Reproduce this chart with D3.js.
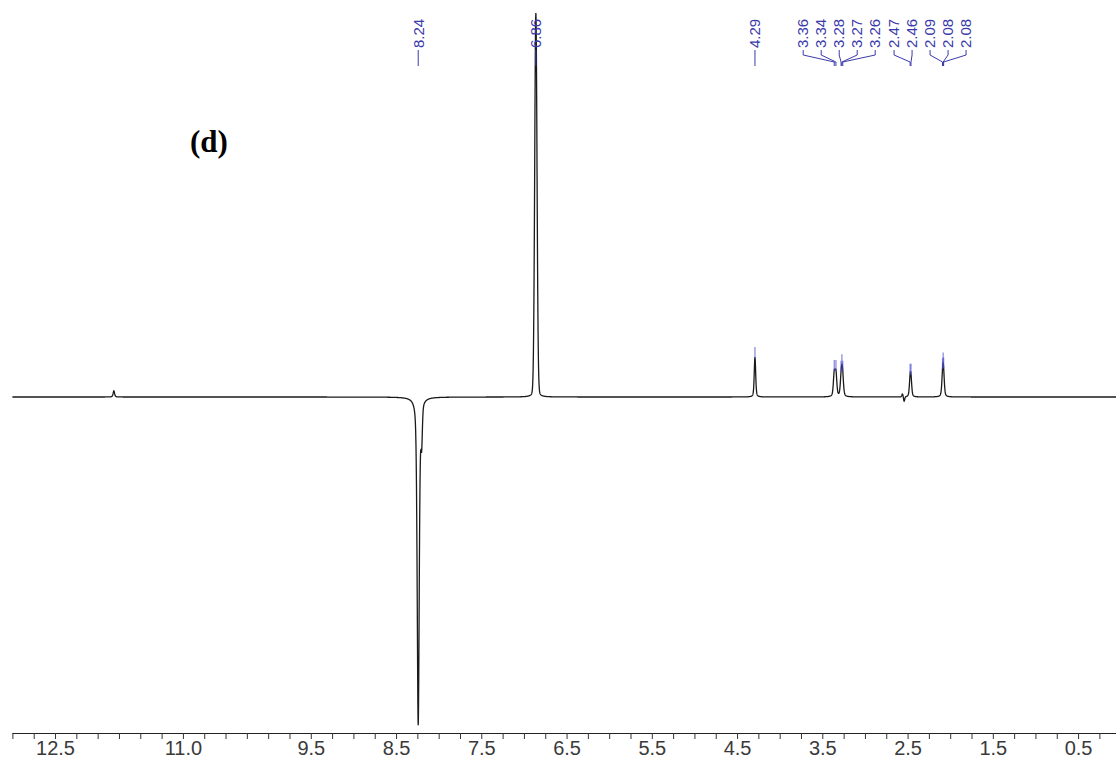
<!DOCTYPE html>
<html>
<head>
<meta charset="utf-8">
<script src="https://cdn.jsdelivr.net/npm/d3@7"></script>
<style>
  html, body { margin: 0; padding: 0; background: #fff; }
  svg { display: block; }
</style>
</head>
<body>
<script>
// ---- data ----
// peak list (chemical shift in ppm, relative height, half-width in ppm, Lorentzian fraction)
const peakPpm    = [11.81, 8.24, 8.20, 6.86, 4.29, 3.36, 3.34, 3.28, 3.27, 3.26, 2.56, 2.54, 2.47, 2.46, 2.09, 2.083, 2.077];
const peakHeight = [1.6, -85.3, -10, 100, 10.4, 5.8, 5.8, 3.5, 4.2, 3.5, 0.8, -1.2, 3.9, 3.9, 2.5, 5.0, 2.5];
const peakWidth  = [0.010, 0.014, 0.010, 0.016, 0.010, 0.012, 0.012, 0.012, 0.012, 0.012, 0.008, 0.008, 0.011, 0.011, 0.012, 0.012, 0.012];
const peakLorentz = [0.5, 0.45, 0.3, 0.08, 0.4, 0.4, 0.4, 0.4, 0.4, 0.4, 0.3, 0.3, 0.4, 0.4, 0.4, 0.4, 0.4];
// picked peak labels
const labelPpm = [8.24, 6.86, 4.29, 3.36, 3.34, 3.28, 3.27, 3.26, 2.47, 2.46, 2.09, 2.083, 2.077];
// axis tick labels
const tickLabels = [12.5, 11.0, 9.5, 8.5, 7.5, 6.5, 5.5, 4.5, 3.5, 2.5, 1.5, 0.5];
const panelLabel = "(d)";

// ---- layout ----
const W = 1116, H = 764;
const svg = d3.select("body").append("svg").attr("width", W).attr("height", H);
svg.append("rect").attr("width", W).attr("height", H).attr("fill", "#fff");

const x = d3.scaleLinear().domain([13, 0]).range([12.4, 1120.7]);
const y = d3.scaleLinear().domain([0, 100]).range([397, 13]);

svg.append("defs").append("clipPath").attr("id", "clip")
  .append("rect").attr("x", 0).attr("y", 0).attr("width", W).attr("height", H);

// spectrum intensity from the peak table (pseudo-Voigt line shapes)
function intensity(p) {
  let s = 0;
  for (let i = 0; i < peakPpm.length; i++) {
    const d = (p - peakPpm[i]) / peakWidth[i];
    const L = 1 / (1 + d * d);
    const G = Math.exp(-Math.LN2 * d * d);
    const e = peakLorentz[i];
    s += peakHeight[i] * (e * L + (1 - e) * G);
  }
  return s;
}
const grid = d3.range(0, 13.0001, 0.002).map(p => [p, intensity(p)]);

svg.append("path")
  .attr("clip-path", "url(#clip)")
  .attr("d", d3.line().x(d => x(d[0])).y(d => y(d[1]))(grid))
  .attr("fill", "none")
  .attr("stroke", "#1a1a1a")
  .attr("stroke-width", 1.3);

// ---- x axis ----
const axisY = 733;
const minorTicks = d3.range(0.25, 13.001, 0.25);
const gMinor = svg.append("g").attr("transform", `translate(0,${axisY})`)
  .call(d3.axisBottom(x).tickValues(minorTicks).tickSize(6).tickSizeOuter(0).tickFormat(""));
gMinor.select(".domain").attr("stroke", "#222").attr("stroke-width", 1.2)
  .attr("d", `M${x(13)},0.5H${W}`);
gMinor.selectAll(".tick line").attr("stroke", "#333");

const gLab = svg.append("g").attr("transform", `translate(0,${axisY})`)
  .call(d3.axisBottom(x).tickValues(tickLabels).tickSize(0).tickPadding(8).tickFormat(d3.format(".1f")));
gLab.select(".domain").remove();
gLab.selectAll("text")
  .attr("font-family", "'Liberation Sans', Arial, sans-serif")
  .attr("font-size", 20)
  .attr("fill", "#3a3a3a")
  .attr("dy", "0.71em");

// ---- panel label ----
svg.append("text")
  .attr("x", 190).attr("y", 152)
  .attr("font-family", "'Liberation Serif', 'Times New Roman', serif")
  .attr("font-weight", "bold")
  .attr("font-size", 31)
  .attr("fill", "#000")
  .text(panelLabel);

// ---- peak labels with spread-out layout ----
const gap = 18;
let items = labelPpm.map(p => ({ p, px: x(p) })).sort((a, b) => a.px - b.px);
let clusters = items.map(it => ({ members: [it] }));
function centerOf(c) { return d3.mean(c.members, m => m.px); }
function place(c) {
  const n = c.members.length, cx = centerOf(c);
  c.members.forEach((m, i) => m.lx = cx + (i - (n - 1) / 2) * gap);
}
clusters.forEach(place);
let changed = true;
while (changed) {
  changed = false;
  for (let i = 0; i < clusters.length - 1; i++) {
    const a = clusters[i], b = clusters[i + 1];
    const aR = a.members[a.members.length - 1].lx, bL = b.members[0].lx;
    if (bL - aR < gap) {
      a.members = a.members.concat(b.members);
      clusters.splice(i + 1, 1);
      place(a);
      changed = true;
      break;
    }
  }
}

const blue = "#3a3aaa";
const gPk = svg.append("g");
items.forEach(it => {
  gPk.append("text")
    .attr("transform", `translate(${it.lx + 5.3},48) rotate(-90)`)
    .attr("font-family", "'Liberation Sans', Arial, sans-serif")
    .attr("font-size", 15)
    .attr("fill", blue)
    .text(it.p.toFixed(2));
  const pts = Math.abs(it.lx - it.px) < 0.5
    ? [[it.px, 50], [it.px, 66]]
    : [[it.lx, 50], [it.lx, 55], [it.px, 62], [it.px, 66]];
  gPk.append("path")
    .attr("d", d3.line()(pts))
    .attr("fill", "none")
    .attr("stroke", blue)
    .attr("stroke-width", 1);
  // peak marker at the top of the peak
  const v = intensity(it.p);
  const ty = y(v);
  if (v > 0 && ty > 80) {
    gPk.append("line")
      .attr("x1", it.px).attr("x2", it.px)
      .attr("y1", ty - 10).attr("y2", ty + 1)
      .attr("stroke", "#5050d0").attr("stroke-width", 1.2).attr("opacity", 0.7);
  }
});
</script>
</body>
</html>
